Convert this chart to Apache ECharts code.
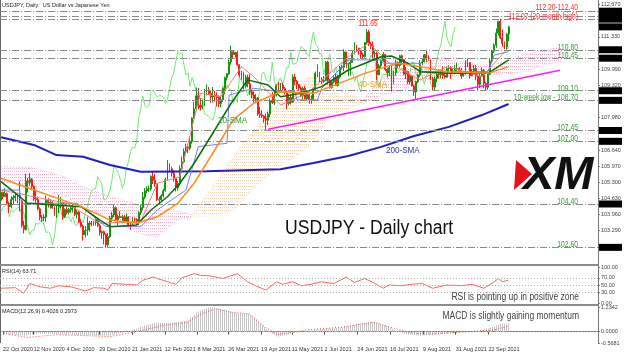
<!DOCTYPE html>
<html><head><meta charset="utf-8">
<script src="https://cdn.jsdelivr.net/npm/echarts@6/dist/echarts.min.js"></script>
<style>html,body{margin:0;padding:0;background:#fff}#c{width:624px;height:356px}</style>
</head><body><div id="c"></div>
<script>
// ---- daily candles [open, close, low, high] ----
const oct20=[[104.55,104.88,104.52,104.95],[104.88,104.71,104.60,104.92],[104.71,104.84,104.68,105.05],[104.84,104.43,104.38,104.88],[104.43,104.29,104.03,104.50],[104.29,104.58,104.22,104.72],[104.58,104.66,104.40,104.78]];
const nov20=[[104.66,104.73,104.51,104.90],[104.73,104.53,104.43,104.87],[104.53,104.53,104.10,105.35],[104.53,103.50,103.42,104.56],[103.50,103.34,103.18,103.70],[103.34,105.35,103.30,105.65],[105.35,105.30,104.88,105.48],[105.30,105.43,105.15,105.68],[105.43,105.13,104.97,105.48],[105.13,104.62,104.53,105.17],[104.62,104.59,104.45,105.00],[104.59,104.20,104.13,104.70],[104.20,103.84,103.72,104.25],[103.84,103.82,103.66,103.95],[103.82,103.86,103.69,103.98],[103.86,104.55,103.67,104.75],[104.55,104.45,104.25,104.64],[104.45,104.47,104.20,104.60],[104.47,104.25,104.20,104.52],[104.25,104.08,103.90,104.30],[104.08,104.27,103.83,104.35]];
const dec20=[[104.27,104.32,104.02,104.77],[104.32,104.45,104.22,104.70],[104.45,103.87,103.75,104.50],[103.87,104.17,103.82,104.22],[104.17,104.05,103.96,104.28],[104.05,104.16,103.96,104.24],[104.16,104.24,104.05,104.35],[104.24,104.26,104.05,104.38],[104.26,103.97,103.90,104.28],[103.97,104.06,103.80,104.16],[104.06,103.65,103.62,104.13],[103.65,103.48,103.43,103.77],[103.48,103.12,102.88,103.55],[103.12,103.30,103.01,103.48],[103.30,103.32,103.09,103.87],[103.32,103.61,103.25,103.70],[103.61,103.56,103.48,103.70],[103.56,103.63,103.50,103.70],[103.63,103.77,103.50,103.85],[103.77,103.51,103.45,103.82],[103.51,103.21,103.09,103.56],[103.21,103.25,102.96,103.30]];
const jan21=[[103.25,103.13,102.72,103.30],[103.13,102.71,102.60,103.18],[102.71,103.04,102.59,103.20],[103.04,103.81,102.98,103.90],[103.81,103.94,103.66,104.08],[103.94,104.24,103.85,104.40],[104.24,103.76,103.68,104.30],[103.76,103.89,103.52,103.96],[103.89,103.84,103.80,104.10],[103.84,103.87,103.60,103.95],[103.87,103.67,103.60,103.95],[103.67,103.87,103.60,104.00],[103.87,103.54,103.45,103.90],[103.54,103.50,103.33,103.66],[103.50,103.78,103.50,103.85],[103.78,103.77,103.60,103.83],[103.77,103.62,103.52,103.80],[103.62,104.05,103.53,104.10],[104.05,104.25,103.95,104.38],[104.25,104.68,104.15,104.90]];
const feb21=[[104.68,104.94,104.60,105.06],[104.94,105.03,104.85,105.13],[105.03,105.03,104.90,105.17],[105.03,105.54,104.95,105.59],[105.54,105.39,105.23,105.77],[105.39,105.24,105.12,105.65],[105.24,104.58,104.52,105.26],[104.58,104.57,104.41,104.70],[104.57,104.74,104.50,104.80],[104.74,104.95,104.67,105.03],[104.95,105.41,104.91,105.49],[105.41,106.04,105.40,106.22],[106.04,105.86,105.75,106.09],[105.86,105.69,105.54,105.95],[105.69,105.45,105.33,105.80],[105.45,105.07,104.92,105.48],[105.07,105.25,104.95,105.36],[105.25,105.88,105.15,106.00],[105.88,106.15,105.70,106.37],[106.15,106.58,106.10,106.70]];
const mar21=[[106.58,106.77,106.49,106.90],[106.77,106.71,106.51,106.89],[106.71,107.01,106.63,107.20],[107.01,107.96,106.90,108.00],[107.96,108.34,107.93,108.64],[108.34,108.89,108.25,109.24],[108.89,108.48,108.32,109.21],[108.48,108.41,108.28,108.78],[108.41,108.49,108.33,108.72],[108.49,109.03,108.46,109.17],[109.03,109.13,108.90,109.36],[109.13,108.98,108.92,109.25],[108.98,108.84,108.60,109.12],[108.84,108.90,108.61,109.25],[108.90,108.89,108.65,109.10],[108.89,108.82,108.45,109.03],[108.82,108.57,108.42,108.90],[108.57,108.73,108.41,108.90],[108.73,109.20,108.63,109.23],[109.20,109.64,108.95,109.69],[109.64,109.80,109.52,109.83],[109.80,110.29,109.75,110.40],[110.29,110.72,110.18,110.97]];
const apr21=[[110.72,110.60,110.45,110.73],[110.60,110.69,110.47,110.72],[110.69,110.18,110.14,110.74],[110.18,109.75,109.66,110.20],[109.75,109.85,109.55,109.92],[109.85,109.29,109.15,109.89],[109.29,109.66,109.24,109.77],[109.66,109.39,109.24,109.77],[109.39,109.07,108.93,109.78],[109.07,108.92,108.80,109.14],[108.92,108.76,108.61,109.07],[108.76,108.79,108.60,108.96],[108.79,108.14,108.06,108.84],[108.14,108.10,107.97,108.43],[108.10,108.05,107.96,108.29],[108.05,107.95,107.77,108.09],[107.95,107.88,107.48,108.15],[107.88,108.13,107.68,108.24],[108.13,108.70,108.00,108.78],[108.70,108.60,108.55,109.04],[108.60,108.91,108.51,109.12],[108.91,109.30,108.86,109.38]];
const may21=[[109.30,109.12,109.05,109.46],[109.12,109.34,109.00,109.42],[109.34,109.19,109.10,109.43],[109.19,109.06,108.95,109.25],[109.06,108.57,108.34,109.11],[108.57,108.82,108.50,108.96],[108.82,108.62,108.53,108.95],[108.62,109.67,108.60,109.78],[109.67,109.49,109.33,109.79],[109.49,109.36,109.16,109.54],[109.36,109.21,109.11,109.38],[109.21,108.88,108.83,109.28],[108.88,109.20,108.73,109.26],[109.20,108.77,108.74,109.30],[108.77,108.94,108.71,109.03],[108.94,108.73,108.56,108.97],[108.73,108.74,108.56,108.91],[108.74,109.15,108.70,109.19],[109.15,109.83,109.12,109.90],[109.83,109.86,109.66,110.20],[109.86,109.57,109.45,109.87]];
const jun21=[[109.57,109.49,109.37,109.66],[109.49,109.52,109.43,109.71],[109.52,110.29,109.50,110.33],[110.29,109.51,109.35,110.33],[109.51,109.24,109.19,109.60],[109.24,109.47,109.19,109.55],[109.47,109.64,109.40,109.75],[109.64,109.32,109.29,109.81],[109.32,109.67,109.27,109.76],[109.67,110.06,109.61,110.13],[110.06,110.07,109.98,110.16],[110.07,110.71,109.91,110.82],[110.71,110.21,110.04,110.70],[110.21,110.21,109.70,110.25],[110.21,110.27,109.73,110.37],[110.27,110.65,110.27,110.79],[110.65,110.94,110.61,111.11],[110.94,110.86,110.70,111.00],[110.86,110.77,110.59,110.89],[110.77,110.60,110.42,110.76],[110.60,110.51,110.40,110.68],[110.51,111.10,110.48,111.12]];
const jul21=[[111.10,111.54,111.03,111.66],[111.54,111.04,110.96,111.62],[111.04,110.95,110.83,111.12],[110.95,110.62,110.35,111.15],[110.62,110.65,110.36,110.74],[110.65,109.76,109.53,110.72],[109.76,110.13,109.77,110.21],[110.13,110.35,110.01,110.43],[110.35,110.61,110.30,110.70],[110.61,109.98,109.91,110.61],[109.98,109.84,109.65,110.03],[109.84,110.06,109.71,110.13],[110.06,109.45,109.07,110.13],[109.45,109.85,109.37,109.93],[109.85,110.28,109.72,110.39],[110.28,110.15,110.03,110.31],[110.15,110.55,110.06,110.59],[110.55,110.39,110.16,110.60],[110.39,109.79,109.74,110.42],[109.79,109.90,109.58,110.08],[109.90,109.47,109.37,109.93],[109.47,109.71,109.36,109.77]];
const aug21=[[109.71,109.30,109.28,109.74],[109.30,109.05,108.88,109.35],[109.05,109.48,108.72,109.52],[109.48,109.76,109.41,109.80],[109.76,110.25,109.67,110.37],[110.25,110.30,110.17,110.45],[110.30,110.59,110.27,110.62],[110.59,110.41,110.28,110.80],[110.41,110.40,110.34,110.57],[110.40,109.59,109.55,110.42],[109.59,109.25,109.12,109.68],[109.25,109.60,109.11,109.67],[109.60,109.78,109.45,109.83],[109.78,109.76,109.60,109.94],[109.76,109.79,109.61,109.95],[109.79,109.73,109.60,110.11],[109.73,109.66,109.60,109.83],[109.66,110.02,109.64,110.10],[110.02,110.06,109.92,110.16],[110.06,109.84,109.59,110.12],[109.84,109.92,109.79,110.02],[109.92,110.02,109.84,110.17]];
const sep21=[[110.02,110.02,109.91,110.27],[110.02,109.93,109.83,110.08],[109.93,109.71,109.59,110.05],[109.71,109.84,109.69,109.89],[109.84,110.28,109.76,110.37],[110.28,110.27,110.08,110.44],[110.27,109.72,109.60,110.28],[109.72,109.91,109.70,110.00],[109.91,110.02,109.81,110.16],[110.02,109.70,109.54,110.16],[109.70,109.36,109.11,109.78],[109.36,109.70,109.21,109.82],[109.70,109.94,109.67,110.07],[109.94,109.40,109.20,110.00],[109.40,109.24,109.11,109.47],[109.24,109.78,109.14,109.85],[109.78,110.33,109.75,110.43],[110.33,110.74,110.28,110.80],[110.74,110.99,110.66,111.06],[110.99,111.49,110.88,111.68],[111.49,111.98,111.39,112.00],[111.98,111.29,111.24,112.08]];
const oct21=[[111.29,111.05,110.92,111.64],[111.05,110.92,110.82,111.14],[110.92,111.45,110.80,111.50],[111.45,111.75,111.16,111.79]];

// ---- indicator lines: [barIndex, value] ----
const sma200=[[0,107.17],[16,106.85],[27,106.43],[40,106.36],[53,106.02],[68,105.74],[100,105.76],[136,105.84],[152,106.10],[169,106.39],[185,106.77],[201,107.22],[218,107.60],[234,108.09],[247,108.55]];
const sma20=[[0,105.33],[13,104.43],[39,104.29],[48,103.74],[53,103.46],[66,103.53],[73,104.15],[81,104.70],[87,105.26],[94,106.09],[104,107.47],[112,108.58],[120,109.55],[130,109.34],[136,108.85],[146,108.99],[156,109.27],[169,109.96],[185,110.51],[190,110.54],[198,110.24],[204,109.89],[217,109.82],[237,109.82],[247,110.38]];
const sma40=[[0,105.47],[16,104.98],[39,104.29],[53,103.74],[66,103.60],[76,103.87],[86,104.43],[94,105.26],[104,106.64],[113,107.89],[123,108.58],[136,109.06],[152,108.99],[177,109.82],[193,110.24],[204,110.10],[217,109.89],[237,109.82],[247,110.10]];
const tenkan=[[0,104.98],[16,104.70],[32,104.43],[48,103.60],[68,103.67],[76,105.26],[87,105.53],[97,108.99],[107,108.85],[117,110.10],[123,109.68],[136,108.51],[149,108.99],[169,110.51],[179,111.07],[189,110.24],[204,109.55],[217,110.10],[234,109.68],[247,110.90]];
const kijun=[[0,104.98],[9,104.98],[10,104.43],[37,104.43],[51,103.46],[68,103.46],[76,104.15],[90,104.98],[96,106.78],[110,106.92],[111,108.92],[123,109.20],[136,109.06],[143,109.06],[144,108.72],[154,108.72],[156,109.20],[169,110.38],[185,110.38],[186,110.24],[204,110.24],[205,109.89],[237,109.89],[240,110.58],[247,110.72]];
const trendLine=[[130,107.50],[272,109.95]];
// cloud: [barIndex, top, bottom]
const cloudPinkA=[[0,105.95,105.35],[16,105.90,105.10],[32,105.50,104.70],[40,105.10,104.20],[53,104.70,103.85],[66,104.40,103.20],[76,104.15,103.05],[86,104.10,103.75],[93,103.95,103.90]];
const cloudPeach=[[93,103.95,103.90],[103,105.10,103.90],[113,106.35,104.15],[123,107.50,105.10],[136,108.60,106.00],[145,109.50,106.50],[152,109.70,107.00],[160,109.30,108.10],[170,108.90,108.40],[176,108.70,108.60]];
const cloudPinkC=[[176,108.70,108.60],[185,109.60,108.90],[195,110.00,109.10],[205,110.30,109.50],[215,110.40,109.70],[225,110.30,109.70],[235,110.10,109.75],[245,110.30,109.80],[255,110.60,109.90],[265,110.80,110.20],[273,110.90,110.30]];
const rsi=[[0,41],[7,42.6],[11,27.5],[14,54],[19,45],[24,41],[28,48],[34,45],[41,33.5],[45,42.6],[50,41],[52,36],[54,54],[61,52],[66,50],[69,63],[74,72.5],[76,68],[81,59],[85,52],[88,70],[94,81.5],[97,77],[102,75],[108,68],[115,81.5],[120,59],[125,45],[129,36],[134,59],[137,52],[142,59],[146,48],[151,52],[156,59],[162,54],[168,72],[172,57],[177,68],[182,54],[186,41],[189,50],[195,48],[200,52],[205,54],[210,41],[217,50],[224,48],[229,52],[235,41],[240,59],[242,68],[244,59],[247,63.71]];
const macdMain=[[0,-0.10],[10,-0.20],[17,-0.10],[28,-0.12],[40,-0.18],[52,-0.22],[59,-0.05],[69,0.30],[75,0.45],[82,0.45],[90,0.55],[95,1.00],[101,1.23],[108,1.10],[113,0.95],[120,0.90],[125,0.50],[130,0.00],[134,-0.25],[142,-0.05],[153,0.10],[165,0.20],[174,0.40],[181,0.50],[186,0.35],[191,0.10],[196,-0.10],[203,-0.20],[217,-0.10],[231,0.00],[238,0.20],[243,0.40],[247,0.4026]];
const macdSignal=[[0,-0.08],[12,-0.29],[26,-0.15],[40,-0.20],[52,-0.25],[59,-0.12],[69,0.08],[78,0.30],[90,0.47],[97,0.90],[104,1.15],[111,0.98],[120,0.90],[128,0.22],[134,-0.15],[139,-0.08],[148,0.08],[165,0.22],[181,0.47],[189,0.22],[200,-0.08],[209,-0.12],[226,0.00],[240,0.08],[247,0.2973]];

// ---- axis ticks / labels / levels ----
const dateLabels=['22 Oct 2020','12 Nov 2020','4 Dec 2020','29 Dec 2020','21 Jan 2021','12 Feb 2021','8 Mar 2021','26 Mar 2021','19 Apr 2021','11 May 2021','2 Jun 2021','24 Jun 2021','16 Jul 2021','9 Aug 2021','31 Aug 2021','22 Sep 2021'];
const dateLabelIdx=[0,15,31,47,63,79,95,110,126,141,157,173,189,205,221,237];
const priceTicks=[112.67,111.33,109.99,109.32,107.98,106.64,105.97,105.30,104.63,103.96,103.29];
const priceBoxes=[112.40,112.20,112.07,111.75,110.80,110.45,109.10,108.70,107.45,107.00,104.40,102.60];
const levelLines=[112.40,112.20,112.07,110.80,110.45,109.10,108.70,107.45,107.00,104.40,102.60];
const levelTexts=['112.20-112.40','112.07 (20-month high)','110.80','110.45','109.10','10-week low - 108.70','107.45','107.00','104.40','102.60'];
const levelTextAt=[112.40,112.07,110.80,110.45,109.10,108.70,107.45,107.00,104.40,102.60];
const rsiTicks=[100,70,50,30,0];
const rsiLevels=[70,50,30];
const macdTicks=[1.2342,0,-0.5681];
const NSLOTS=291;

const bars=[].concat(oct20,nov20,dec20,jan21,feb21,mar21,apr21,may21,jun21,jul21,aug21,sep21,oct21);
const closes=bars.map(b=>b[1]);
const chikou=closes.map((c,i)=>[i-26,c]).filter(d=>d[0]>=0);
const slots=Array.from({length:NSLOTS},(_,i)=>String(i));
const labelMap={};dateLabelIdx.forEach((k,j)=>labelMap[k]=dateLabels[j]);

function pattern(color,w,h){const c=document.createElement('canvas');c.width=w;c.height=h;const g=c.getContext('2d');g.fillStyle=color;g.fillRect(0,0,1,1);return {image:c,repeat:'repeat'};}
const clouds=[{pts:cloudPinkA,color:'#ffaed0'},{pts:cloudPeach,color:'#ffcfa8'},{pts:cloudPinkC,color:'#ffaed0'}];

const FONT='"Liberation Sans", Arial, sans-serif';
const G=[{left:0,right:26,top:3,height:261},{left:0,right:26,top:267,height:36},{left:0,right:26,top:307,height:36}];
function xa(i,show){return {gridIndex:i,type:'category',data:slots,boundaryGap:true,
  axisLine:{show:show,lineStyle:{color:'#777'}},
  axisTick:{show:show,alignWithLabel:true,interval:(k)=>labelMap[k]!==undefined,length:3,lineStyle:{color:'#555'}},
  axisLabel:{show:show,interval:(k)=>labelMap[k]!==undefined,formatter:(v,k)=>labelMap[k]||'',align:'left',fontSize:5.5,color:'#333',margin:3,fontFamily:FONT},
  splitLine:{show:false}};}
function ya(i,min,max,ticks,dec){return {gridIndex:i,type:'value',position:'right',min:min,max:max,scale:true,
  axisLine:{show:true,lineStyle:{color:'#777'}},
  axisTick:{show:true,customValues:ticks,length:2,lineStyle:{color:'#777'}},
  axisLabel:{customValues:ticks,formatter:(v)=>v.toFixed(dec),fontSize:5.5,color:'#444',margin:3,fontFamily:FONT},
  splitLine:{show:false}};}
const lineS=(data,color,w,z,extra)=>Object.assign({type:'line',data:data,xAxisIndex:0,yAxisIndex:0,showSymbol:false,symbol:'none',silent:true,z:z,lineStyle:{color:color,width:w}},extra||{});

const option={
  animation:false,
  textStyle:{fontFamily:FONT},
  grid:G,
  xAxis:[xa(0,false),xa(1,false),xa(2,true)],
  yAxis:[ya(0,101.91,112.74,priceTicks,3),ya(1,0,100,rsiTicks,2),ya(2,-0.5681,1.2342,macdTicks,4)],
  series:[
    {type:'custom',xAxisIndex:0,yAxisIndex:0,z:1,silent:true,clip:true,
     data:clouds.map((s,k)=>[s.pts[0][0],s.pts[0][1]]),
     renderItem:(params,api)=>{const s=clouds[params.dataIndex];
       const top=s.pts.map(p=>api.coord([p[0],p[1]]));const bot=s.pts.slice().reverse().map(p=>api.coord([p[0],p[2]]));
       return {type:'group',children:[
         {type:'polygon',shape:{points:top.concat(bot)},style:{fill:pattern(s.color,2,3),stroke:null}},
         {type:'polyline',shape:{points:top},style:{fill:null,stroke:s.color,lineWidth:1,lineDash:[1,2]}},
         {type:'polyline',shape:{points:bot.slice().reverse()},style:{fill:null,stroke:s.color,lineWidth:1,lineDash:[1,2]}}]};}},
    lineS(chikou,'#72ea72',1,3),
    lineS(sma200,'#1f1fc8',2,4),
    lineS(tenkan,'#ff7a7a',1,4),
    lineS(kijun,'#7a7aff',1,4),
    {type:'candlestick',data:bars,xAxisIndex:0,yAxisIndex:0,barWidth:1.4,z:3,silent:true,
     itemStyle:{color:'#13960f',color0:'#ff1a1a',borderColor:'#13960f',borderColor0:'#ff1a1a',borderWidth:1},
     markLine:{silent:true,symbol:['none','none'],label:{show:false},
       lineStyle:{color:'#8a8a8a',width:1,type:[7,2,1,2]},data:levelLines.map(v=>({yAxis:v}))}},
    lineS(sma20,'#0a6e0a',1.5,5),
    lineS(sma40,'#ff8c1a',1.5,5),
    lineS(trendLine,'#ff1aff',1.5,6),
    {type:'line',data:rsi,xAxisIndex:1,yAxisIndex:1,showSymbol:false,symbol:'none',silent:true,lineStyle:{color:'#ff6464',width:1},
     markLine:{silent:true,symbol:['none','none'],label:{show:false},lineStyle:{color:'#b0b0b0',width:1,type:[1,2]},data:rsiLevels.map(v=>({yAxis:v}))}},
    {type:'line',data:macdMain,xAxisIndex:2,yAxisIndex:2,showSymbol:false,symbol:'none',silent:true,lineStyle:{width:0},
     areaStyle:{color:pattern('#c4c4c4',2,1),opacity:1}},
    {type:'line',data:macdSignal,xAxisIndex:2,yAxisIndex:2,showSymbol:false,symbol:'none',silent:true,lineStyle:{color:'#ff4040',width:1,type:[1,2]},
     markLine:{silent:true,symbol:['none','none'],label:{show:false},lineStyle:{color:'#b0b0b0',width:1,type:[1,2]},data:[{yAxis:0}]}}
  ]
};
const chart=echarts.init(document.getElementById('c'),null,{renderer:'canvas'});
chart.setOption(option);
const Y=v=>chart.convertToPixel({yAxisIndex:0},v);
function txt(x,y,text,font,color,align,sx){return {type:'text',x:x,y:y,scaleX:sx||1,silent:true,z:100,
  style:{text:text,font:font,fill:color,textAlign:align||'left',textVerticalAlign:'middle',align:align||'left',verticalAlign:'middle'}};}
const g=[];
// frame lines
g.push({type:'line',shape:{x1:0.5,y1:0,x2:0.5,y2:343},style:{stroke:'#666',lineWidth:1},silent:true});
g.push({type:'line',shape:{x1:598.5,y1:0,x2:598.5,y2:343},style:{stroke:'#777',lineWidth:1},silent:true});
[264.5,265.5,304.5,305.5].forEach(y=>g.push({type:'line',shape:{x1:0,y1:y,x2:598,y2:y},style:{stroke:'#8c8c8c',lineWidth:1},silent:true}));
// titles
g.push(txt(2,5,'USDJPY, Daily:  US Dollar vs Japanese Yen','5.5px '+FONT,'#222'));
g.push(txt(2,271,'RSI(14) 63.71','5.5px '+FONT,'#222'));
g.push(txt(2,311,'MACD(12,26,9) 0.4026 0.2973','5.5px '+FONT,'#222'));
g.push(txt(579,297,'RSI is pointing up in positive zone','10px '+FONT,'#444','right',0.85));
g.push(txt(579,316,'MACD is slightly gaining momentum','10px '+FONT,'#444','right',0.85));
g.push(txt(285,228,'USDJPY - Daily chart','20px '+FONT,'#111','left',0.88));
// level annotations
levelTexts.forEach((t,k)=>{const v=levelTextAt[k];const red=k<2;
  g.push(txt(578,Y(v)-(k===0?3.5:2.5),t,'9px '+FONT,red?'#ff2a2a':'#2f9e2f','right',0.75));});
g.push(txt(368,24,'111.65','9px '+FONT,'#ff2a2a','center',0.75));
g.push(txt(218,121,'20-SMA','9px '+FONT,'#2f9e2f','left',0.9));
g.push(txt(358,85,'40-SMA','9px '+FONT,'#f59a20','left',0.9));
g.push(txt(386,151,'200-SMA','9px '+FONT,'#3030a0','left',0.9));
// price boxes on the right axis
priceBoxes.forEach(v=>{const y=Y(v);
  g.push({type:'rect',shape:{x:599,y:y-3.5,width:23,height:7},style:{fill:'#000'},silent:true,z:101});
  g.push(txt(601,y,v.toFixed(3),'5.5px '+FONT,'#fff','left'));});
// XM logo
g.push(txt(523,176,'XM','italic 900 47px '+FONT,'#111','left',1));
g.push({type:'polygon',shape:{points:[[516,160],[532,174],[514,190]]},style:{fill:'#e3121b'},silent:true,z:102});
chart.setOption({graphic:g});
</script></body></html>
